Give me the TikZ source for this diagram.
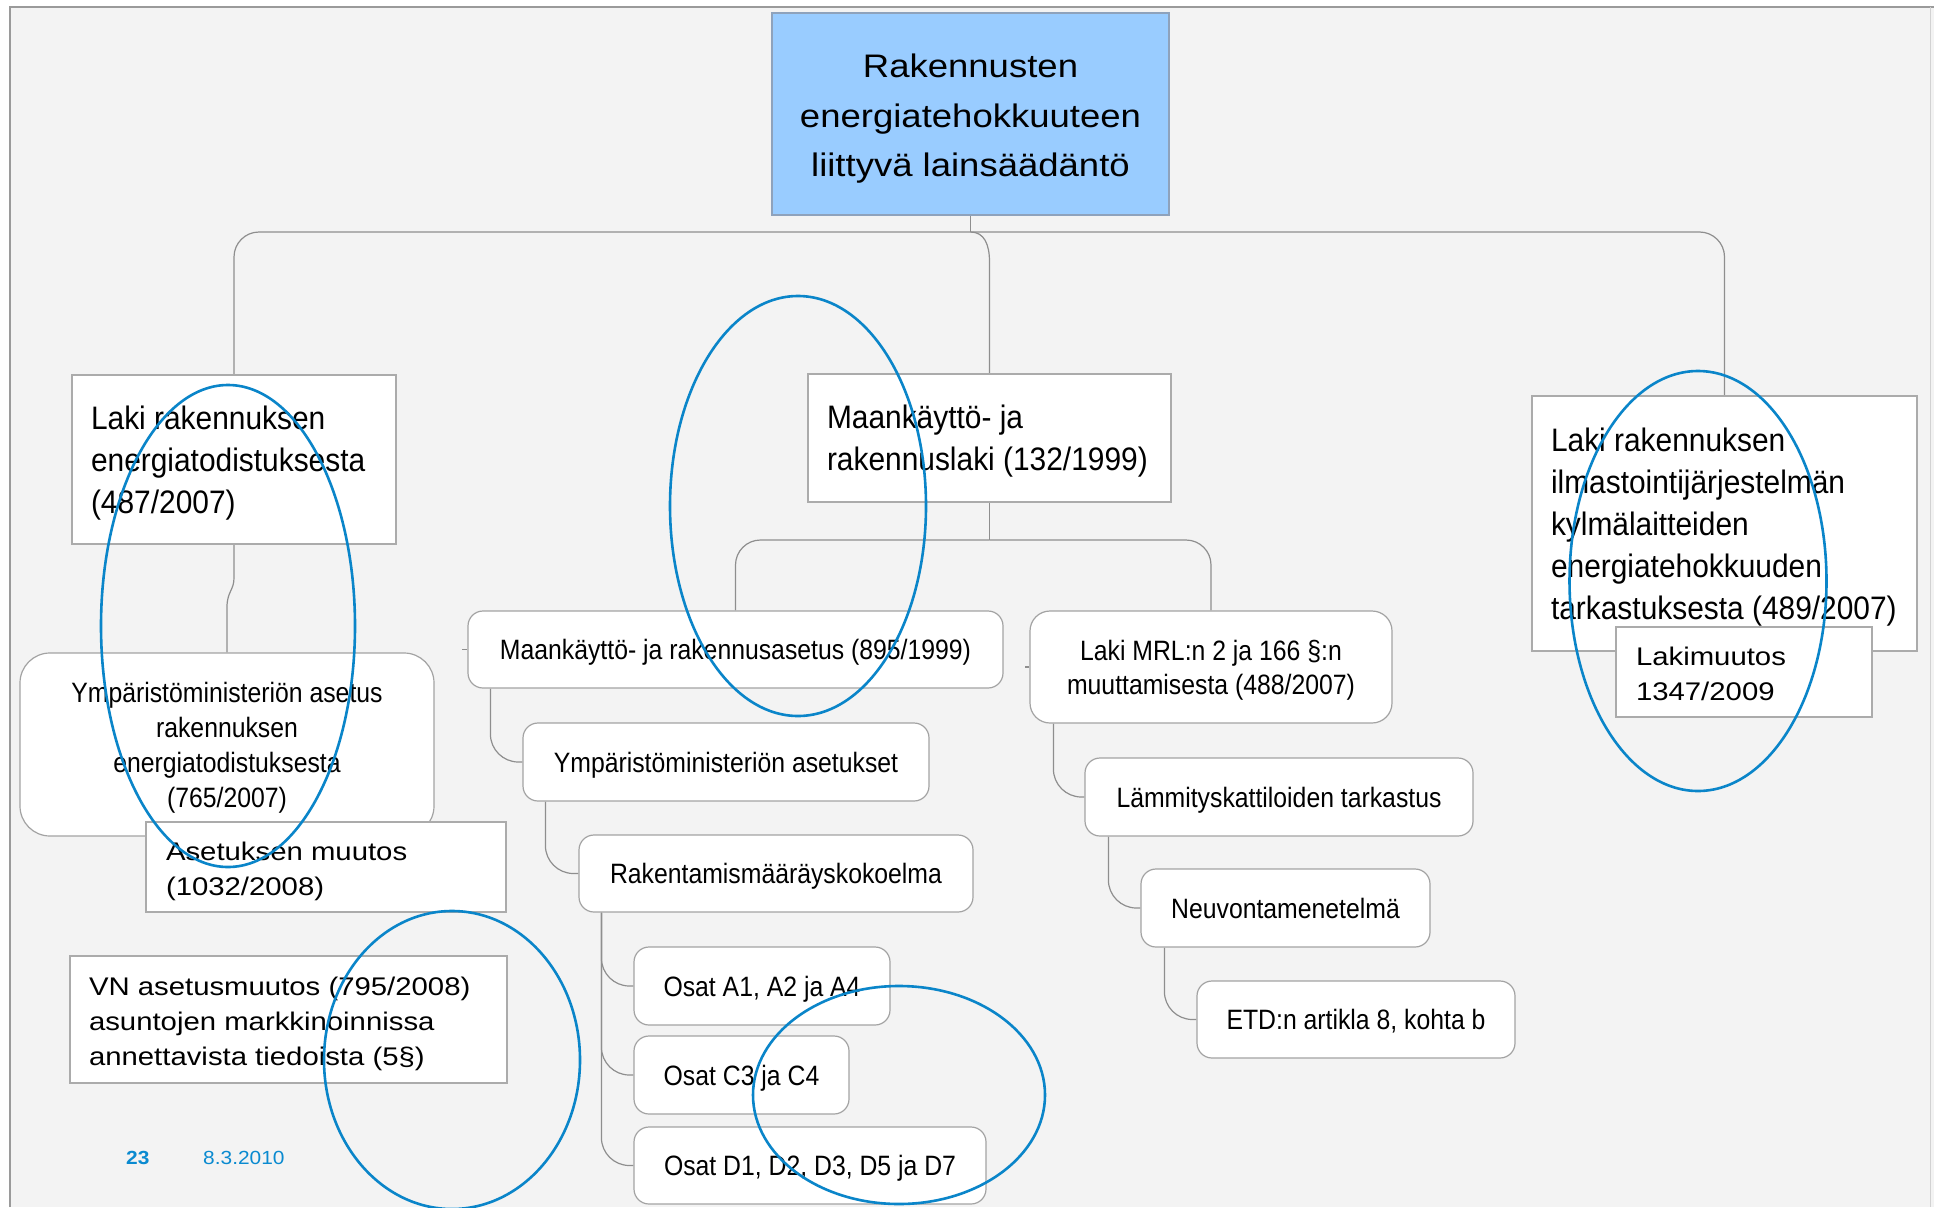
\documentclass[tikz,border=0pt]{standalone}
\usepackage{fontspec}
\setmainfont{Liberation Sans}
\newfontfamily\titlefont[FakeStretch=1.12]{Liberation Sans}
\newfontfamily\bigfont[FakeStretch=0.92]{Liberation Sans}
\newfontfamily\smallfont[FakeStretch=0.885]{Liberation Sans}
\newfontfamily\normfont[FakeStretch=1.15]{Liberation Sans}
\newfontfamily\footfont[FakeStretch=1.1]{Liberation Sans}
\usetikzlibrary{shapes.geometric,backgrounds}
\definecolor{bgcol}{HTML}{F3F3F3}
\definecolor{framegray}{HTML}{9A9A9A}
\definecolor{boxgray}{HTML}{ABABAB}
\definecolor{rgray}{HTML}{A3A3A3}
\definecolor{conngray}{HTML}{8E8E8E}
\definecolor{titlefill}{HTML}{99CCFF}
\definecolor{titledraw}{HTML}{8EA2BC}
\definecolor{ellblue}{HTML}{0A85C9}
\definecolor{footblue}{HTML}{0A8AD0}
\newcommand{\tx}[2][l]{\raisebox{-3.5pt}[\height][\depth]{\begin{tabular}{@{}#1@{}}#2\end{tabular}}}
\begin{document}
\begin{tikzpicture}[x=1pt,y=-1pt,
  titlebox/.style={draw=titledraw, line width=1.8pt, fill=titlefill, inner sep=0pt,
    font=\titlefont\fontsize{32.6}{49.5}\selectfont},
  sqbig/.style={draw=boxgray, line width=1.8pt, fill=white, inner xsep=19pt, inner ysep=0pt,
    font=\bigfont\fontsize{32.5}{42}\selectfont},
  sqnorm/.style={draw=boxgray, line width=1.8pt, fill=white, inner xsep=20pt, inner ysep=0pt,
    font=\normfont\fontsize{25.5}{35}\selectfont},
  rbox/.style={draw=rgray, line width=1.2pt, fill=white, rounded corners=15pt, inner sep=0pt,
    font=\smallfont\fontsize{28}{34.5}\selectfont},
  conn/.style={draw=conngray, line width=1.2pt},
  elbow/.style={conn, rounded corners=28pt},
  ell/.style={draw=ellblue, line width=2.6pt, ellipse, inner sep=0pt},
  foot/.style={text=footblue, inner sep=0pt, anchor=base west, font=\footfont\fontsize{19}{23}\selectfont}
]
\useasboundingbox (0,0) rectangle (1934,1207);

% nodes
\node[titlebox, minimum width=397pt, minimum height=202pt] (title) at (970.5,114)
  {\tx[c]{Rakennusten\\energiatehokkuuteen\\liittyvä lainsäädäntö}};

\node[sqbig, minimum width=324pt, minimum height=169pt] (lakiE) at (234,459.5)
  {\makebox[286pt][l]{\tx{Laki rakennuksen\\energiatodistuksesta\\(487/2007)}}};
\node[sqbig, minimum width=363pt, minimum height=128pt] (mrlaki) at (989.5,438)
  {\makebox[325pt][l]{\tx{Maankäyttö- ja\\rakennuslaki (132/1999)}}};
\node[sqbig, minimum width=385pt, minimum height=255pt] (ilm) at (1724.5,523.5)
  {\makebox[347pt][l]{\tx{Laki rakennuksen\\ilmastointijärjestelmän\\kylmälaitteiden\\energiatehokkuuden\\tarkastuksesta (489/2007)}}};
\node[sqnorm, minimum width=256pt, minimum height=90pt] (lakim) at (1744,672)
  {\makebox[216pt][l]{\tx{Lakimuutos\\1347/2009}}};

\node[rbox, rounded corners=30pt, minimum width=414pt, minimum height=183pt, font=\smallfont\fontsize{28}{35}\selectfont] (ympA) at (227,744.5)
  {\tx[c]{Ympäristöministeriön asetus\\rakennuksen\\energiatodistuksesta\\(765/2007)}};
\node[sqnorm, minimum width=360pt, minimum height=90pt] (asmuut) at (326,867)
  {\makebox[320pt][l]{\tx{Asetuksen muutos\\(1032/2008)}}};
\node[sqnorm, minimum width=437pt, minimum height=127pt, inner xsep=19pt] (vn) at (288.5,1019.5)
  {\makebox[399pt][l]{\tx{VN asetusmuutos (795/2008)\\asuntojen markkinoinnissa\\annettavista tiedoista (5§)}}};

\node[rbox, minimum width=535pt, minimum height=77pt] (masetus) at (735.5,649.5)
  {\tx[c]{Maankäyttö- ja rakennusasetus (895/1999)}};
\node[rbox, rounded corners=20pt, minimum width=362pt, minimum height=112pt, font=\smallfont\fontsize{28}{34}\selectfont] (mrl2) at (1211,667)
  {\tx[c]{Laki MRL:n 2 ja 166 §:n\\muuttamisesta (488/2007)}};
\node[rbox, minimum width=406pt, minimum height=78pt] (ympB) at (726,762)
  {\tx[c]{Ympäristöministeriön asetukset}};
\node[rbox, minimum width=394pt, minimum height=77pt] (rak) at (776,873.5)
  {\tx[c]{Rakentamismääräyskokoelma}};
\node[rbox, minimum width=256pt, minimum height=78pt] (osA) at (762,986)
  {\tx[c]{Osat A1, A2 ja A4}};
\node[rbox, minimum width=215pt, minimum height=78pt] (osC) at (741.5,1075)
  {\tx[c]{Osat C3 ja C4}};
\node[rbox, minimum width=352pt, minimum height=77pt] (osD) at (810,1165.5)
  {\tx[c]{Osat D1, D2, D3, D5 ja D7}};
\node[rbox, minimum width=388pt, minimum height=78pt] (lamm) at (1279,797)
  {\tx[c]{Lämmityskattiloiden tarkastus}};
\node[rbox, minimum width=289pt, minimum height=78pt] (neuv) at (1285.5,908)
  {\tx[c]{Neuvontamenetelmä}};
\node[rbox, minimum width=318pt, minimum height=77pt] (etd) at (1356,1019.5)
  {\tx[c]{ETD:n artikla 8, kohta b}};

\node[foot, font=\footfont\fontsize{19}{23}\selectfont\bfseries] (pnum) at (126,1164) {23};
\node[foot] (date) at (203,1164) {8.3.2010};

% background, frame and connectors behind the boxes
\begin{scope}[on background layer]
  \fill[bgcol] (10,7) rectangle (1934,1207);
  \draw[framegray, line width=1.5pt] (10,1207) -- (10,7) -- (1934,7);
  \draw[gray!35, line width=1pt] (1930,7) -- (1930,1207);

  \coordinate (bus) at (970.5,232);
  \coordinate (bus2) at (989.5,540);
  \draw[conn] (title.south) -- (bus);
  \draw[conn, rounded corners=25pt] (bus) -| (lakiE.north);
  \draw[conn, rounded corners=25pt] (bus) -| (ilm.north);
  \draw[conn] (bus) .. controls (984,232) and (989.5,244) .. (989.5,262) -- (mrlaki.north);

  \draw[conn] (mrlaki.south) -- (bus2);
  \draw[conn, rounded corners=25pt] (bus2) -| (masetus.north);
  \draw[conn, rounded corners=25pt] (bus2) -| (mrl2.north);

  \draw[conn] (lakiE.south) -- (234,578) .. controls (234,590) and (227,592) .. (227,607) -- (ympA.north);

  \draw[elbow] ([xshift=23pt]masetus.south west) |- (ympB.west);
  \draw[elbow] ([xshift=23pt]ympB.south west) |- (rak.west);
  \draw[elbow] ([xshift=23pt]rak.south west) |- (osA.west);
  \draw[elbow] ([xshift=23pt]rak.south west) |- (osC.west);
  \draw[elbow] ([xshift=23pt]rak.south west) |- (osD.west);
  \draw[elbow] ([xshift=24pt]mrl2.south west) |- (lamm.west);
  \draw[elbow] ([xshift=24pt]lamm.south west) |- (neuv.west);
  \draw[elbow] ([xshift=24pt]neuv.south west) |- (etd.west);

  \draw[conn] (masetus.west) -- ++(-5,0);
  \draw[conn] (mrl2.west) -- ++(-4,0);
\end{scope}

% blue hand-drawn ellipses on top
\node[ell, minimum width=254pt, minimum height=482pt] (e1) at (228,626) {};
\node[ell, minimum width=256pt, minimum height=420pt] (e2) at (798,506) {};
\node[ell, minimum width=257pt, minimum height=420pt] (e3) at (1698,581) {};
\node[ell, minimum width=256pt, minimum height=298pt] (e4) at (452,1060) {};
\node[ell, minimum width=292pt, minimum height=218pt] (e5) at (899,1095) {};
\end{tikzpicture}
\end{document}
